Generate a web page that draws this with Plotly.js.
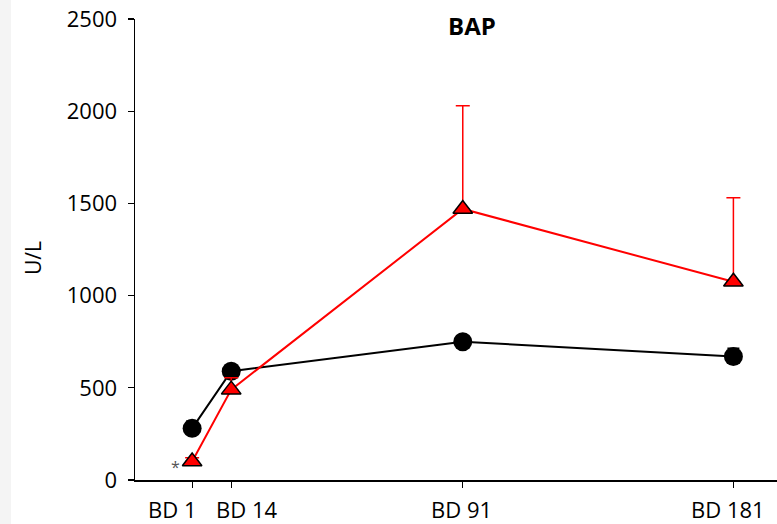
<!DOCTYPE html>
<html><head><meta charset="utf-8">
<script src="https://cdn.plot.ly/plotly-3.0.1.min.js"></script>
<style>html,body{margin:0;padding:0;background:#fff}#c{width:777px;height:524px}</style>
</head><body><div id="c"></div>
<script>
const days = [1, 14, 91, 181];
const tickLabels = ['BD 1', 'BD 14', 'BD 91', 'BD 181'];
const blackMean = [280, 590, 750, 670];
const blackErr = [40, 20, 20, 45];
const redMean = [100, 490, 1470, 1075];
const redErr = [20, 65, 560, 455];
const zeros = [0, 0, 0, 0];
const labelShift = [-20, 15, -1, -5];

const font = 'Open Sans, Liberation Sans, sans-serif';
const traces = [
  {x: days, y: blackMean, type: 'scatter', mode: 'lines+markers',
   line: {color: '#000', width: 2},
   marker: {symbol: 'circle', size: 19, color: '#000'},
   error_y: {type: 'data', symmetric: false, array: blackErr, arrayminus: zeros, color: '#000', thickness: 1.5, width: 6},
   cliponaxis: false, showlegend: false},
  {x: days, y: redMean, type: 'scatter', mode: 'lines+markers',
   line: {color: '#ff0000', width: 2},
   marker: {symbol: 'triangle-up', size: 17, color: '#ff0000', line: {color: '#000', width: 1.5}},
   error_y: {type: 'data', symmetric: false, array: redErr, arrayminus: zeros, color: '#ff0000', thickness: 1.5, width: 7},
   cliponaxis: false, showlegend: false}
];
const annotations = [
  {text: '<b>BAP</b>', xref: 'paper', yref: 'paper', x: (472-135)/642, y: (480-26)/461, xanchor: 'center', yanchor: 'middle',
   showarrow: false, font: {size: 24, family: font}},
  {text: 'U/L', xref: 'paper', yref: 'paper', x: (33-135)/642, y: (480-258)/461, xanchor: 'center', yanchor: 'middle',
   textangle: -90, showarrow: false, font: {size: 21, family: font}},
  {text: '*', x: -4.6, y: 70, xanchor: 'center', yanchor: 'middle', showarrow: false, font: {size: 16, color: '#555', family: font}}
];
tickLabels.forEach((t, i) => annotations.push({
  text: t, x: days[i], xref: 'x', yref: 'paper', y: 0, yanchor: 'top', xanchor: 'center',
  xshift: labelShift[i], yshift: -12, showarrow: false, font: {size: 22, family: font}
}));
const layout = {
  width: 777, height: 524,
  margin: {l: 135, r: 0, t: 19, b: 44},
  paper_bgcolor: '#fff', plot_bgcolor: '#fff',
  font: {family: font, color: '#000'},
  xaxis: {range: [-18, 195.5], tickvals: days, showticklabels: false,
    showgrid: false, zeroline: false, showline: true, linecolor: '#000', linewidth: 1.5,
    ticks: 'outside', ticklen: 6, tickwidth: 1.2, tickcolor: '#000'},
  yaxis: {range: [0, 2500], tickvals: [0, 500, 1000, 1500, 2000, 2500],
    showgrid: false, zeroline: false, showline: true, linecolor: '#000', linewidth: 1.5,
    ticks: 'outside', ticklen: 6, tickwidth: 1.2, tickcolor: '#000', tickfont: {size: 22, family: font},
    ticklabelstandoff: 6},
  shapes: [{type: 'rect', xref: 'paper', yref: 'paper', x0: -135/642, x1: (11-135)/642, y0: -44/461, y1: 505/461,
    fillcolor: '#f4f4f4', line: {width: 0}, layer: 'below'}],
  annotations: annotations
};
Plotly.newPlot('c', traces, layout, {displayModeBar: false, staticPlot: true});
</script></body></html>
